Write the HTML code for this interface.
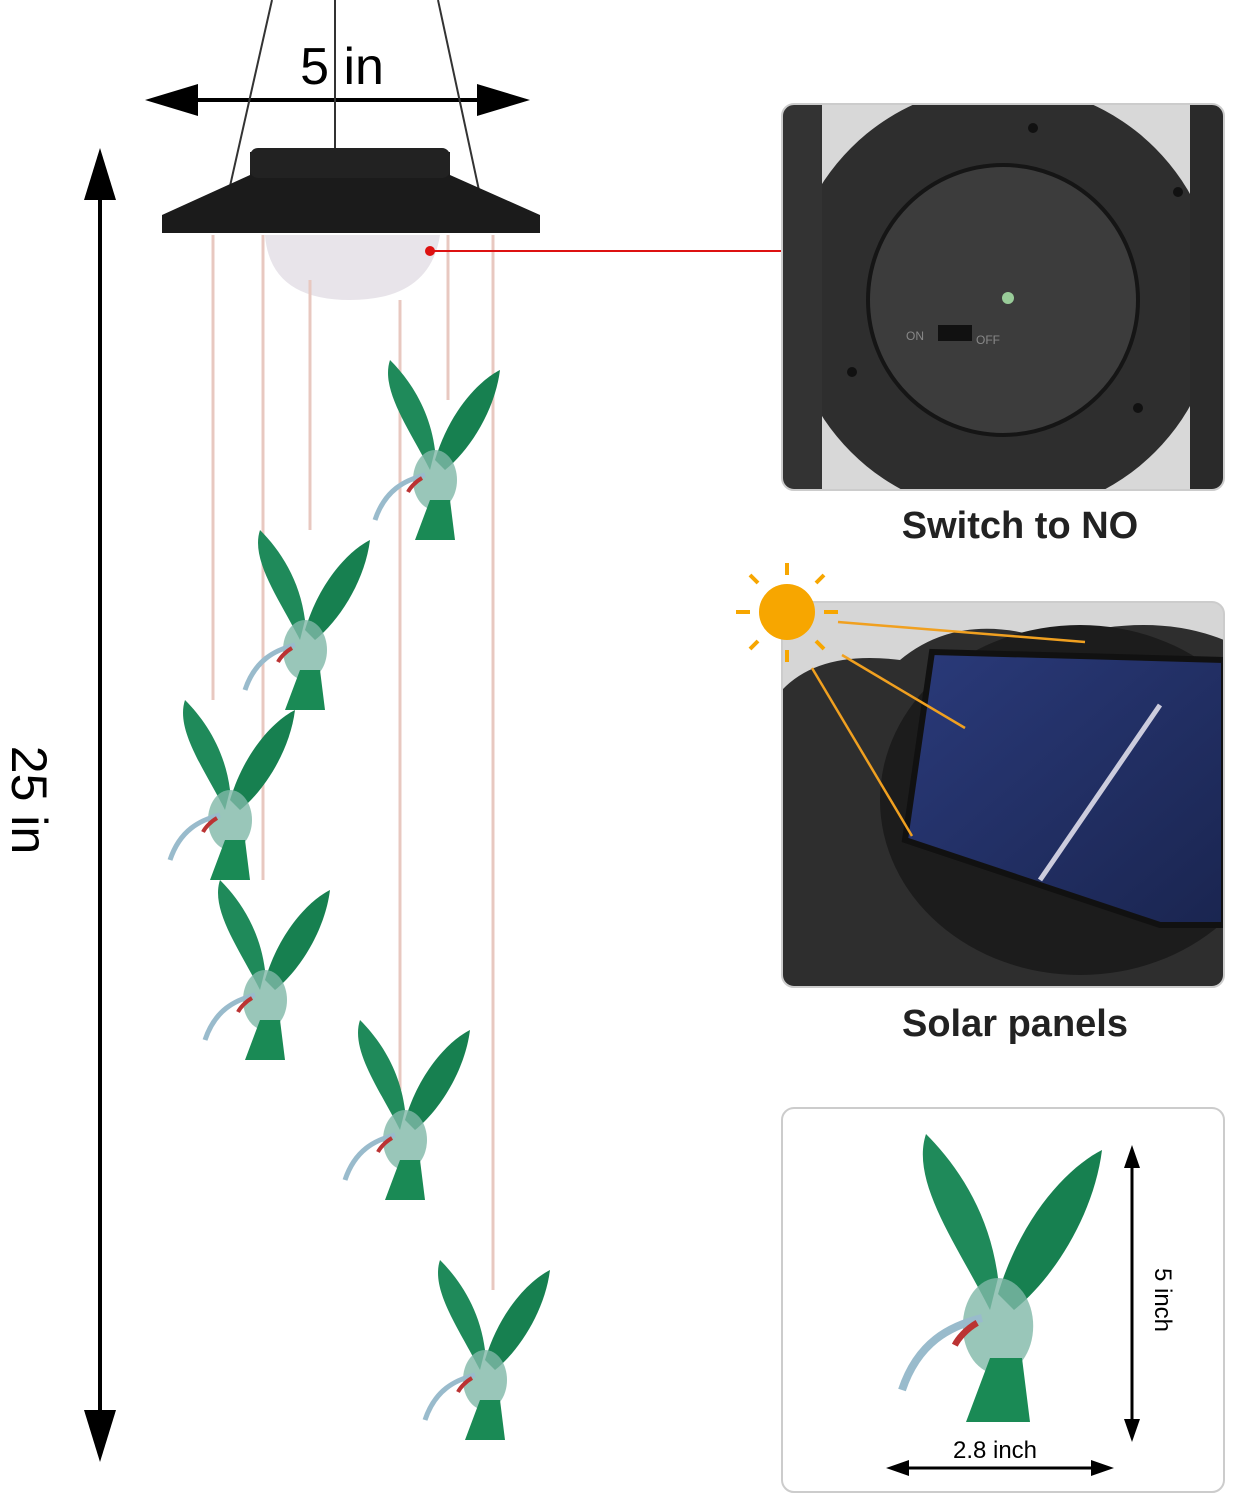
<!DOCTYPE html>
<html><head><meta charset="utf-8"><style>
html,body{margin:0;padding:0;background:#fff;}
svg{display:block;}
text{font-family:"Liberation Sans",sans-serif;}
</style></head><body>
<svg width="1234" height="1500" viewBox="0 0 1234 1500" xmlns="http://www.w3.org/2000/svg">
<defs>
<clipPath id="c1"><rect x="782" y="104" width="442" height="386" rx="12"/></clipPath>
<clipPath id="c2"><rect x="782" y="602" width="442" height="385" rx="12"/></clipPath>
<linearGradient id="bg1" x1="0" y1="0" x2="1" y2="1"><stop offset="0" stop-color="#3a3a3a"/><stop offset="1" stop-color="#1e1e1e"/></linearGradient>
<linearGradient id="pan" x1="0" y1="0" x2="1" y2="1"><stop offset="0" stop-color="#2a3a7a"/><stop offset="1" stop-color="#1a2550"/></linearGradient>
<g id="bird">
 <path d="M0,0 C-20,-40 -50,-80 -40,-110 C-20,-90 0,-60 5,-20 Z" fill="#1f8a5a"/>
 <path d="M5,-10 C20,-60 50,-90 70,-100 C65,-60 40,-20 15,0 Z" fill="#178050"/>
 <ellipse cx="5" cy="10" rx="22" ry="30" fill="#7fb8a8" opacity="0.8"/>
 <path d="M-5,5 C-25,10 -45,20 -55,50" stroke="#9bc" stroke-width="5" fill="none"/>
 <path d="M-8,8 C-15,12 -20,18 -22,22" stroke="#b33" stroke-width="4" fill="none"/>
 <path d="M0,30 L-15,70 L25,70 L20,30 Z" fill="#1a8a55"/>
</g>
</defs>

<line x1="100" y1="175" x2="100" y2="1440" stroke="#000" stroke-width="4"/>
<path d="M100,148 L84,200 L116,200 Z" fill="#000"/>
<path d="M100,1462 L84,1410 L116,1410 Z" fill="#000"/>
<text x="0" y="0" font-size="50" transform="translate(12,800) rotate(90)" text-anchor="middle">25 in</text>

<line x1="170" y1="100" x2="505" y2="100" stroke="#000" stroke-width="4"/>
<path d="M145,100 L198,84 L198,116 Z" fill="#000"/>
<path d="M530,100 L477,84 L477,116 Z" fill="#000"/>
<text x="342" y="84" font-size="52" text-anchor="middle">5 in</text>

<line x1="228" y1="195" x2="272" y2="0" stroke="#333" stroke-width="2"/>
<line x1="480" y1="195" x2="438" y2="0" stroke="#333" stroke-width="2"/>
<line x1="335" y1="150" x2="335" y2="0" stroke="#333" stroke-width="2"/>

<path d="M250,152 L450,152 L450,175 L540,215 L540,233 L162,233 L162,215 L250,175 Z" fill="#1b1b1b"/>
<rect x="250" y="148" width="200" height="30" rx="8" fill="#222"/>
<path d="M265,235 Q270,300 350,300 Q430,300 440,235 Z" fill="#e8e4ea"/>

<g stroke="#e8c8c0" stroke-width="3">
<line x1="213" y1="235" x2="213" y2="700"/>
<line x1="263" y1="235" x2="263" y2="880"/>
<line x1="310" y1="280" x2="310" y2="530"/>
<line x1="400" y1="300" x2="400" y2="1090"/>
<line x1="448" y1="235" x2="448" y2="400"/>
<line x1="493" y1="235" x2="493" y2="1290"/>
</g>

<use href="#bird" transform="translate(430,470)"/>
<use href="#bird" transform="translate(300,640)"/>
<use href="#bird" transform="translate(225,810)"/>
<use href="#bird" transform="translate(260,990)"/>
<use href="#bird" transform="translate(400,1130)"/>
<use href="#bird" transform="translate(480,1370)"/>

<line x1="430" y1="251" x2="800" y2="251" stroke="#d11" stroke-width="2"/>
<circle cx="430" cy="251" r="5" fill="#d11"/>

<!-- panel 1 -->
<g clip-path="url(#c1)">
<rect x="782" y="104" width="442" height="386" fill="#d8d8d8"/>
<circle cx="1003" cy="300" r="215" fill="#2e2e2e"/>
<rect x="782" y="104" width="40" height="386" fill="#333"/>
<rect x="1190" y="104" width="34" height="386" fill="#2a2a2a"/>
<circle cx="1003" cy="300" r="135" fill="#3c3c3c" stroke="#151515" stroke-width="4"/>
<circle cx="1008" cy="298" r="6" fill="#9c9"/>
<rect x="938" y="325" width="34" height="16" fill="#111"/>
<text x="906" y="340" font-size="12" fill="#888">ON</text>
<text x="976" y="344" font-size="12" fill="#888">OFF</text>
<circle cx="1033" cy="128" r="5" fill="#111"/><circle cx="1138" cy="408" r="5" fill="#111"/>
<circle cx="852" cy="372" r="5" fill="#111"/><circle cx="1178" cy="192" r="5" fill="#111"/>
</g>
<rect x="782" y="104" width="442" height="386" rx="12" fill="none" stroke="#ccc" stroke-width="2"/>
<text x="1020" y="538" font-size="38" font-weight="bold" text-anchor="middle" fill="#222">Switch to NO</text>

<!-- panel 2 -->
<g clip-path="url(#c2)">
<rect x="782" y="602" width="442" height="385" fill="#d6d6d6"/>
<path d="M782,690 Q820,650 900,660 Q960,610 1050,640 Q1150,610 1224,640 L1224,987 L782,987 Z" fill="#2e2e2e"/>
<ellipse cx="1080" cy="800" rx="200" ry="175" fill="#1c1c1c"/>
<path d="M932,652 L1224,660 L1224,925 L1160,925 L905,840 Z" fill="url(#pan)" stroke="#111" stroke-width="6"/>
<line x1="1160" y1="705" x2="1040" y2="880" stroke="#ccd" stroke-width="5"/>
</g>
<rect x="782" y="602" width="442" height="385" rx="12" fill="none" stroke="#ccc" stroke-width="2"/>
<g stroke="#f0a020" stroke-width="2.5">
<line x1="838" y1="622" x2="1085" y2="642"/>
<line x1="842" y1="655" x2="965" y2="728"/>
<line x1="812" y1="668" x2="912" y2="836"/>
</g>
<circle cx="787" cy="612" r="28" fill="#f7a600"/>
<g stroke="#f7a600" stroke-width="4">
<line x1="787" y1="563" x2="787" y2="575"/><line x1="787" y1="650" x2="787" y2="662"/>
<line x1="736" y1="612" x2="750" y2="612"/><line x1="824" y1="612" x2="838" y2="612"/>
<line x1="750" y1="575" x2="758" y2="583"/><line x1="816" y1="641" x2="824" y2="649"/>
<line x1="824" y1="575" x2="816" y2="583"/><line x1="758" y1="641" x2="750" y2="649"/>
</g>
<text x="1015" y="1036" font-size="38" font-weight="bold" text-anchor="middle" fill="#222">Solar panels</text>

<!-- panel 3 -->
<rect x="782" y="1108" width="442" height="384" rx="12" fill="#fff" stroke="#ccc" stroke-width="2"/>
<g transform="translate(990,1310) scale(1.6)"><use href="#bird"/></g>
<line x1="1132" y1="1165" x2="1132" y2="1425" stroke="#000" stroke-width="3"/>
<path d="M1132,1145 L1124,1168 L1140,1168 Z" fill="#000"/>
<path d="M1132,1442 L1124,1419 L1140,1419 Z" fill="#000"/>
<text font-size="24" transform="translate(1155,1300) rotate(90)" text-anchor="middle">5 inch</text>
<line x1="905" y1="1468" x2="1095" y2="1468" stroke="#000" stroke-width="3"/>
<path d="M886,1468 L909,1460 L909,1476 Z" fill="#000"/>
<path d="M1114,1468 L1091,1460 L1091,1476 Z" fill="#000"/>
<text x="995" y="1458" font-size="24" text-anchor="middle">2.8 inch</text>
</svg>
</body></html>
